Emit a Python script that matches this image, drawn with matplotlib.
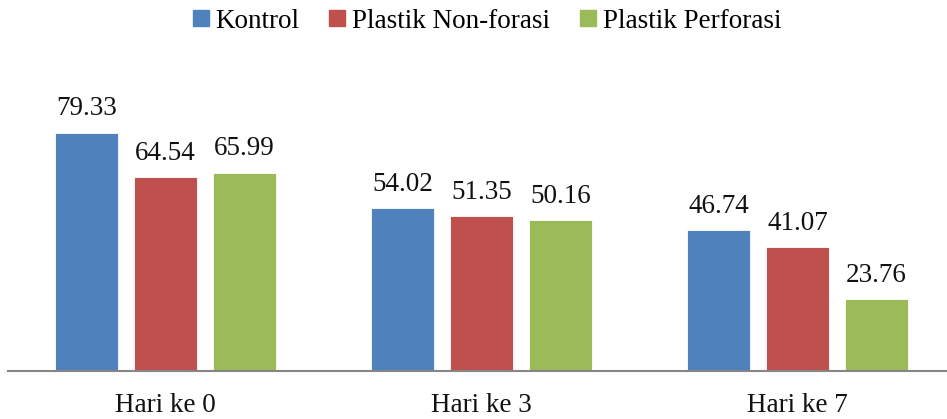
import numpy as np
import matplotlib.pyplot as plt
from matplotlib.lines import Line2D

plt.rcParams['font.family'] = ['Liberation Serif', 'DejaVu Serif']

kategori = ['Hari ke 0', 'Hari ke 3', 'Hari ke 7']
seri = ['Kontrol', 'Plastik Non-forasi', 'Plastik Perforasi']
kontrol = [79.33, 54.02, 46.74]
non_forasi = [64.54, 51.35, 41.07]
perforasi = [65.99, 50.16, 23.76]
warna = ['#4F81BD', '#C0504D', '#9BBB59']

fig = plt.figure(figsize=(9.47, 4.19), dpi=100)
ax = fig.add_axes([8 / 947, 48.5 / 419, 939 / 947, 300 / 419])

x = np.arange(len(kategori))
lebar = 0.2
for i, (nilai, c) in enumerate(zip([kontrol, non_forasi, perforasi], warna)):
    pos = x + (i - 1) * 0.25
    ax.bar(pos, nilai, lebar, color=c, edgecolor='white', linewidth=0.6, zorder=2)
    for xp, v in zip(pos, nilai):
        ax.annotate(f'{v:.2f}', (xp, v), xytext=(0, 8), textcoords='offset points',
                    ha='center', va='bottom', fontsize=19.5, color='#111111')

ax.set_xlim((8 - 165.5) / 316, (947 - 165.5) / 316)
ax.set_ylim(0, 100)
ax.set_xticks(x)
ax.set_xticklabels(kategori, fontsize=19.5, color='#111111')
ax.tick_params(axis='x', length=0, pad=16)
ax.set_yticks([])
for s in ['top', 'right', 'left']:
    ax.spines[s].set_visible(False)
ax.spines['bottom'].set_color('#868686')
ax.spines['bottom'].set_linewidth(1.5)

handles = [Line2D([], [], marker='s', linestyle='none', markersize=11,
                  markerfacecolor=c, markeredgecolor=c) for c in warna]
fig.legend(handles, seri, loc='center', bbox_to_anchor=(487 / 947, 1 - 21 / 419),
           ncol=3, frameon=False, fontsize=19.5, handlelength=0.6, handletextpad=0.25,
           columnspacing=1.1, borderpad=0)

fig.savefig('out.png', dpi=100)
